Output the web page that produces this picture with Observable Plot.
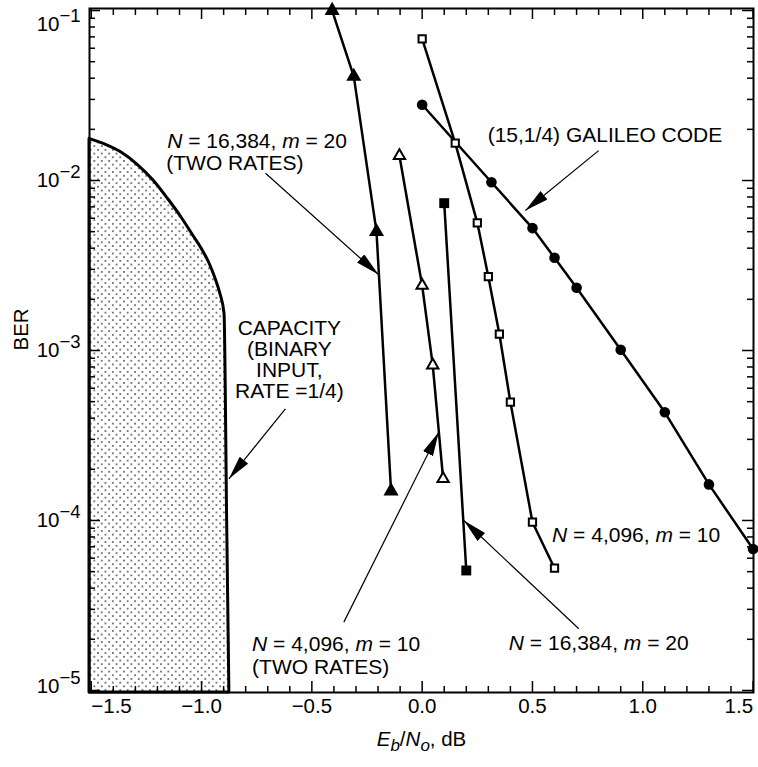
<!DOCTYPE html>
<html>
<head>
<meta charset="utf-8">
<script src="https://cdn.jsdelivr.net/npm/d3@7"></script>
<script src="https://cdn.jsdelivr.net/npm/@observablehq/plot@0.6"></script>
<style>body{margin:0;background:#fff}</style>
</head>
<body>
<div id="chart"></div>
<script>
// ---- data ----
// Capacity (binary input, rate 1/4) boundary
const capX = [-1.508, -1.436, -1.363, -1.291, -1.218, -1.150, -1.091, -1.041, -1.000, -0.964, -0.937, -0.914, -0.896, -0.884, -0.874];
const capY = [0.01759, 0.01628, 0.01461, 0.01242, 0.0100, 0.00773, 0.00606, 0.00481, 0.00398, 0.00325, 0.00265, 0.00214, 0.00165, 0.0001, 0.00001];
// N = 16,384, m = 20 (two rates) - filled triangles
const triFilledX = [-0.408, -0.310, -0.207, -0.141];
const triFilledY = [0.1, 0.041, 0.0050, 0.000149];
// N = 4,096, m = 10 (two rates) - open triangles
const triOpenX = [-0.103, 0.0, 0.048, 0.095];
const triOpenY = [0.0140, 0.00241, 0.00082, 0.000176];
// N = 16,384, m = 20 - filled squares
const sqFilledX = [0.1, 0.2];
const sqFilledY = [0.00736, 0.0000508];
// N = 4,096, m = 10 - open squares
const sqOpenX = [0.0, 0.15, 0.25, 0.3, 0.35, 0.4, 0.5, 0.6];
const sqOpenY = [0.0682, 0.0166, 0.00564, 0.00272, 0.00125, 0.000497, 0.0000977, 0.0000524];
// (15,1/4) Galileo code - filled circles
const galX = [0.0, 0.314, 0.5, 0.6, 0.7, 0.9, 1.1, 1.3, 1.5];
const galY = [0.0279, 0.00977, 0.00525, 0.00351, 0.00234, 0.00101, 0.000433, 0.000163, 0.000068];

// tick values
const xMajor = [-1.5, -1.0, -0.5, 0.0, 0.5, 1.0, 1.5];
const xMinor = d3.range(-15, 16).filter(i => i % 5 !== 0).map(i => i / 10);
const yDecades = [1e-1, 1e-2, 1e-3, 1e-4, 1e-5];
const yMinor = [];
for (const e of [-5, -4, -3, -2]) for (let k = 2; k <= 9; k++) yMinor.push(k * 10 ** e);

// annotation texts and anchor points (data coordinates)
const labelTexts = ["*N* = 16,384, *m* = 20", "(TWO RATES)", "(15,1/4) GALILEO CODE",
  "*N* = 4,096, *m* = 10", "(TWO RATES)", "*N* = 16,384, *m* = 20", "*N* = 4,096, *m* = 10"];
const labelX = [-1.156, -1.160, 0.297, -0.771, -0.771, 0.393, 0.589];
const labelY = [10 ** -1.771, 10 ** -1.900, 10 ** -1.735, 10 ** -4.729, 10 ** -4.863, 10 ** -4.725, 10 ** -4.088];
const capText = "CAPACITY\n(BINARY\nINPUT,\nRATE =1/4)";
const capTextX = -0.602;
const capTextY = 10 ** -3.054;
const arrowX1 = [-0.710, 0.800, -0.620, -0.355, 0.710];
const arrowY1 = [10 ** -1.957, 10 ** -1.824, 10 ** -3.343, 10 ** -4.598, 10 ** -4.637];
const arrowX2 = [-0.198, 0.468, -0.876, 0.075, 0.189];
const arrowY2 = [10 ** -2.553, 10 ** -2.176, 10 ** -3.755, 10 ** -3.481, 10 ** -4.0];

// ---- build tables ----
const zip = (xs, ys) => xs.map((x, i) => ({x, y: ys[i]}));
const cap = zip(capX, capY);
const triF = zip(triFilledX, triFilledY);
const triO = zip(triOpenX, triOpenY);
const sqF = zip(sqFilledX, sqFilledY);
const sqO = zip(sqOpenX, sqOpenY);
const gal = zip(galX, galY);
const labels = labelTexts.map((t, i) => ({t, x: labelX[i], y: labelY[i]}));
const capLabel = [{t: capText, x: capTextX, y: capTextY}];
const arrows = arrowX1.map((x1, i) => ({x1, y1: arrowY1[i], x2: arrowX2[i], y2: arrowY2[i]}));

const W = 758, H = 767, mt = 8, mr = 5, mb = 75, ml = 89;
const pw = W - ml - mr, ph = H - mt - mb;
const yMin = 10 ** -5.012, yMax = 10 ** -0.988;
const fmtX = d => (d < 0 ? "\u2212" : "") + Math.abs(d).toFixed(1);
const expo = d => "\u2212" + Math.round(-Math.log10(d));
const font = "'Liberation Sans', Arial, Helvetica, sans-serif";

const lineOpts = {x: "x", y: "y", stroke: "black", strokeWidth: 2.5};

const plot = Plot.plot({
  width: W, height: H,
  marginTop: mt, marginRight: mr, marginBottom: mb, marginLeft: ml,
  style: {fontFamily: font, fontSize: "21px", background: "white", color: "black", overflow: "visible"},
  x: {domain: [-1.508, 1.502], axis: null},
  y: {type: "log", domain: [yMin, yMax], axis: null},
  marks: [
    // capacity region
    Plot.areaY(cap, {x: "x", y1: () => yMin, y2: "y", fill: "url(#dots)", stroke: "black", strokeWidth: 3, curve: "monotone-x"}),
    // ticks (inward)
    Plot.tickX(xMajor, {x: d => d, insetTop: ph - 11, stroke: "black", strokeWidth: 1.5}),
    Plot.tickX(xMinor, {x: d => d, insetTop: ph - 6, stroke: "black", strokeWidth: 1.5}),
    Plot.tickX(xMajor, {x: d => d, insetBottom: ph - 11, stroke: "black", strokeWidth: 1.5}),
    Plot.tickX(xMinor, {x: d => d, insetBottom: ph - 7, stroke: "black", strokeWidth: 1.5}),
    Plot.tickY(yDecades, {y: d => d, insetRight: pw - 11, stroke: "black", strokeWidth: 1.5}),
    Plot.tickY(yMinor, {y: d => d, insetRight: pw - 6, stroke: "black", strokeWidth: 1.5}),
    Plot.tickY(yDecades, {y: d => d, insetLeft: pw - 11, stroke: "black", strokeWidth: 1.5}),
    Plot.tickY(yMinor, {y: d => d, insetLeft: pw - 6, stroke: "black", strokeWidth: 1.5}),
    Plot.frame({stroke: "black", strokeWidth: 2}),
    // x tick labels
    Plot.text(xMajor.slice(1, -1), {x: d => d, frameAnchor: "bottom", dy: 20, text: fmtX, fontSize: 20.5}),
    Plot.text(xMajor.slice(0, 1), {x: d => d, frameAnchor: "bottom", dy: 20, text: fmtX, fontSize: 20.5, textAnchor: "start"}),
    Plot.text(xMajor.slice(-1), {x: d => d, frameAnchor: "bottom", dy: 20, text: fmtX, fontSize: 20.5, textAnchor: "end"}),
    // y tick labels 10^e
    Plot.text(yDecades.slice(1, -1), {y: d => d, frameAnchor: "left", dx: -30, textAnchor: "end", text: () => "10", fontSize: 20.5}),
    Plot.text(yDecades.slice(1, -1), {y: d => d, frameAnchor: "left", dx: -30, dy: -8, textAnchor: "start", text: expo, fontSize: 18.5}),
    Plot.text(yDecades.slice(0, 1), {y: d => d, frameAnchor: "left", dx: -30, dy: 14, textAnchor: "end", text: () => "10", fontSize: 20.5}),
    Plot.text(yDecades.slice(0, 1), {y: d => d, frameAnchor: "left", dx: -30, dy: 6, textAnchor: "start", text: expo, fontSize: 18.5}),
    Plot.text(yDecades.slice(-1), {y: d => d, frameAnchor: "left", dx: -30, dy: -4, textAnchor: "end", text: () => "10", fontSize: 20.5}),
    Plot.text(yDecades.slice(-1), {y: d => d, frameAnchor: "left", dx: -30, dy: -12, textAnchor: "start", text: expo, fontSize: 18.5}),
    // axis labels
    Plot.text(["BER"], {frameAnchor: "left", dx: -68, rotate: -90, text: d => d, fontSize: 20.5}),
    Plot.text(["XLABEL"], {frameAnchor: "bottom", dy: 53, text: d => d, fontSize: 20.5}),
    // series lines
    Plot.line(triF, lineOpts),
    Plot.line(triO, lineOpts),
    Plot.line(sqF, lineOpts),
    Plot.line(sqO, lineOpts),
    Plot.line(gal, lineOpts),
    // series markers
    Plot.dot(triF, {x: "x", y: "y", symbol: "triangle", r: 5.6, fill: "black", stroke: "none"}),
    Plot.dot(triO, {x: "x", y: "y", symbol: "triangle", r: 4.2, fill: "white", stroke: "black", strokeWidth: 2}),
    Plot.dot(sqF, {x: "x", y: "y", symbol: "square", r: 5.6, fill: "black", stroke: "none"}),
    Plot.dot(sqO, {x: "x", y: "y", symbol: "square", r: 4.1, fill: "white", stroke: "black", strokeWidth: 2}),
    Plot.dot(gal, {x: "x", y: "y", r: 5.3, fill: "black", stroke: "none"}),
    // annotations
    Plot.link(arrows, {x1: "x1", y1: "y1", x2: "x2", y2: "y2", stroke: "black", strokeWidth: 1.2}),
    Plot.text(labels, {x: "x", y: "y", text: "t", textAnchor: "start", fontSize: 21}),
    Plot.text(capLabel, {x: "x", y: "y", text: "t", textAnchor: "middle", fontSize: 21, lineHeight: 1.0})
  ]
});

const svg = d3.select(plot);
svg.insert("defs", ":first-child").html(
  '<pattern id="dots" width="7.4" height="7.4" patternUnits="userSpaceOnUse">' +
  '<rect width="7.4" height="7.4" fill="white"/>' +
  '<circle cx="1.85" cy="1.85" r="0.95" fill="#4a4a4a"/>' +
  '<circle cx="5.55" cy="5.55" r="0.95" fill="#4a4a4a"/></pattern>' +
  '<marker id="ah" viewBox="0 0 24 11" refX="24" refY="5.5" markerWidth="24" markerHeight="11" markerUnits="userSpaceOnUse" orient="auto">' +
  '<path d="M0,0L24,5.5L0,11Z" fill="black"/></marker>'
);
svg.selectAll('g[aria-label="link"] path, g[aria-label="link"] line').attr("marker-end", "url(#ah)");

const NS = "http://www.w3.org/2000/svg";
svg.selectAll("text").each(function () {
  const t = this.textContent;
  if (t.includes("*")) {
    const parts = t.split("*");
    this.textContent = "";
    parts.forEach((p, i) => {
      if (!p) return;
      const ts = document.createElementNS(NS, "tspan");
      if (i % 2) ts.setAttribute("font-style", "italic");
      ts.textContent = p;
      this.appendChild(ts);
    });
  } else if (t === "XLABEL") {
    this.textContent = "";
    const segs = [["E", "italic", 0, null], ["b", "italic", 5, 17], ["/", null, -5, null],
                  ["N", "italic", 0, null], ["o", "italic", 5, 17], [", dB", null, -5, null]];
    for (const [s, st, dy, fs] of segs) {
      const ts = document.createElementNS(NS, "tspan");
      if (st) ts.setAttribute("font-style", st);
      if (dy) ts.setAttribute("dy", dy);
      if (fs) ts.setAttribute("font-size", fs);
      ts.textContent = s;
      this.appendChild(ts);
    }
  }
});

document.getElementById("chart").appendChild(plot);
</script>
</body>
</html>
